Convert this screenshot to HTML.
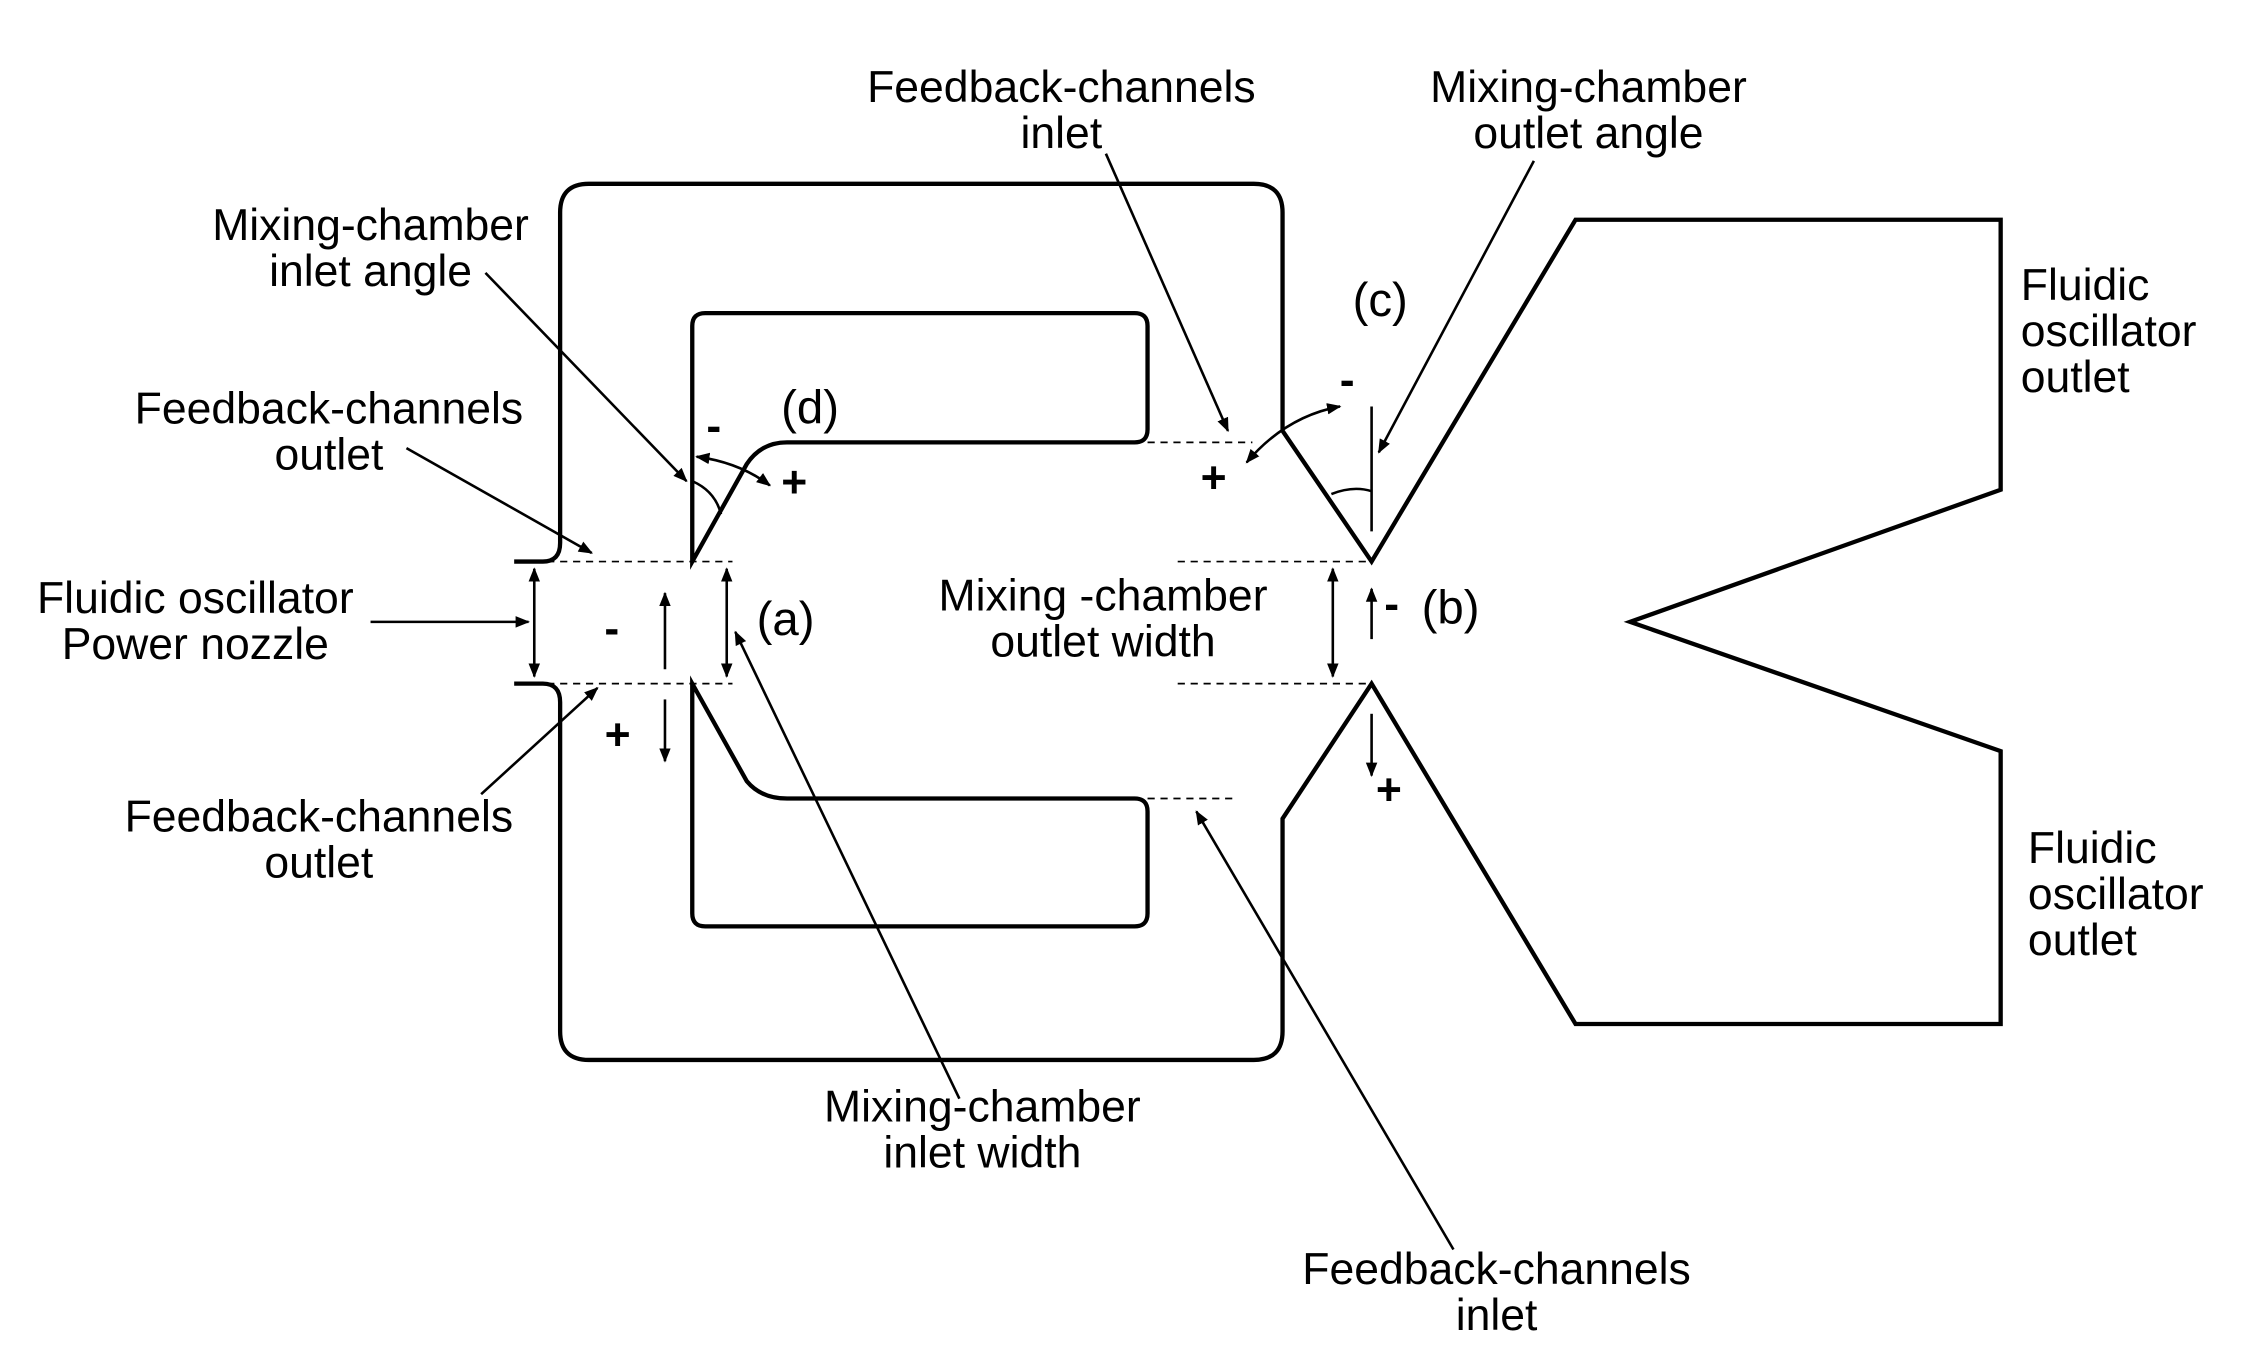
<!DOCTYPE html>
<html><head><meta charset="utf-8"><style>
html,body{margin:0;padding:0;background:#fff;}
svg{display:block;}
text{font-family:"Liberation Sans",sans-serif;font-size:31px;fill:#000;text-anchor:middle;}
.pm{font-size:31px;font-weight:bold;}
</style></head><body>
<svg width="2252" height="1371" viewBox="0 0 1568 954.6" preserveAspectRatio="none" xmlns="http://www.w3.org/2000/svg">
<defs>
<marker id="a" markerWidth="10" markerHeight="10" refX="9" refY="5" orient="auto" markerUnits="userSpaceOnUse"><path d="M0,1 L10,5 L0,9 Z" fill="#000"/></marker>
<marker id="s" markerWidth="10" markerHeight="10" refX="1" refY="5" orient="auto" markerUnits="userSpaceOnUse"><path d="M10,1 L0,5 L10,9 Z" fill="#000"/></marker>
</defs>
<g fill="none" stroke="#000" stroke-width="3" stroke-linejoin="miter">
<path d="M358,391 L378,391 Q390,391 390,378 L390,148 Q390,128 410,128 L873,128 Q893,128 893,148 L893,300 L955,391 L1097,153 L1393,153 L1393,341 L1135,433 L1393,523 L1393,713 L1097,713 L955,476 L893,570 L893,718 Q893,738 873,738 L410,738 Q390,738 390,718 L390,489 Q390,476 378,476 L358,476"/>
<path d="M482,391 L520,323 Q530,308 548,308 L790,308 Q799,308 799,299 L799,227 Q799,218 790,218 L491,218 Q482,218 482,227 Z"/>
<path d="M482,476 L520,544 Q530,556 548,556 L790,556 Q799,556 799,565 L799,636 Q799,645 790,645 L491,645 Q482,645 482,636 Z"/>
</g>
<g stroke="#000" stroke-width="1.2" stroke-dasharray="5,4" fill="none">
<line x1="372" y1="391" x2="510" y2="391"/><line x1="372" y1="476" x2="510" y2="476"/>
<line x1="799" y1="308" x2="872" y2="308"/><line x1="799" y1="556" x2="858" y2="556"/>
<line x1="820" y1="391" x2="955" y2="391"/><line x1="820" y1="476" x2="955" y2="476"/>
</g>
<g stroke="#000" stroke-width="1.8" fill="none">
<line x1="372" y1="396" x2="372" y2="471" marker-start="url(#s)" marker-end="url(#a)"/>
<line x1="506" y1="396" x2="506" y2="471" marker-start="url(#s)" marker-end="url(#a)"/>
<line x1="928" y1="396" x2="928" y2="471" marker-start="url(#s)" marker-end="url(#a)"/>
<line x1="463" y1="466" x2="463" y2="413" marker-end="url(#a)"/>
<line x1="463" y1="487" x2="463" y2="530" marker-end="url(#a)"/>
<line x1="955" y1="445" x2="955" y2="410" marker-end="url(#a)"/>
<line x1="955" y1="497" x2="955" y2="540" marker-end="url(#a)"/>
<line x1="955" y1="283" x2="955" y2="370"/>
<path d="M482,335 Q498,342 502,358"/>
<path d="M927,344 Q942,338 955,342"/>
<path d="M485,318 Q515,322 536,338" marker-start="url(#s)" marker-end="url(#a)"/>
<path d="M868,322 Q895,290 933,283" marker-start="url(#s)" marker-end="url(#a)"/>
<line x1="338" y1="190" x2="478" y2="335" marker-end="url(#a)"/>
<line x1="283" y1="312" x2="412" y2="385" marker-end="url(#a)"/>
<line x1="258" y1="433" x2="368" y2="433" marker-end="url(#a)"/>
<line x1="335" y1="553" x2="416" y2="479" marker-end="url(#a)"/>
<line x1="668" y1="765" x2="512" y2="440" marker-end="url(#a)"/>
<line x1="770" y1="107" x2="855" y2="300" marker-end="url(#a)"/>
<line x1="1068" y1="112" x2="960" y2="315" marker-end="url(#a)"/>
<line x1="1012" y1="870" x2="833" y2="565" marker-end="url(#a)"/>
</g>
<text x="739" y="71">Feedback-channels</text><text x="739" y="103">inlet</text>
<text x="1106" y="71">Mixing-chamber</text><text x="1106" y="103">outlet angle</text>
<text x="258" y="167">Mixing-chamber</text><text x="258" y="199">inlet angle</text>
<text x="229" y="295">Feedback-channels</text><text x="229" y="327">outlet</text>
<text x="136" y="427">Fluidic oscillator</text><text x="136" y="459">Power nozzle</text>
<text x="222" y="579">Feedback-channels</text><text x="222" y="611">outlet</text>
<text x="684" y="781">Mixing-chamber</text><text x="684" y="813">inlet width</text>
<text x="1042" y="894">Feedback-channels</text><text x="1042" y="926">inlet</text>
<text x="768" y="425">Mixing -chamber</text><text x="768" y="457">outlet width</text>
<text x="1407" y="209" style="text-anchor:start">Fluidic</text><text x="1407" y="241" style="text-anchor:start">oscillator</text><text x="1407" y="273" style="text-anchor:start">outlet</text>
<text x="1412" y="601" style="text-anchor:start">Fluidic</text><text x="1412" y="633" style="text-anchor:start">oscillator</text><text x="1412" y="665" style="text-anchor:start">outlet</text>
<text x="961" y="220" style="font-size:33px">(c)</text>
<text x="564" y="295" style="font-size:33px">(d)</text>
<text x="547" y="442" style="font-size:33px">(a)</text>
<text x="1010" y="434" style="font-size:33px">(b)</text>
<text class="pm" x="497" y="307">-</text>
<text class="pm" x="553" y="346">+</text>
<text class="pm" x="938" y="275">-</text>
<text class="pm" x="845" y="343">+</text>
<text class="pm" x="426" y="448">-</text>
<text class="pm" x="430" y="522">+</text>
<text class="pm" x="969" y="431">-</text>
<text class="pm" x="967" y="560">+</text>
</svg>
</body></html>
